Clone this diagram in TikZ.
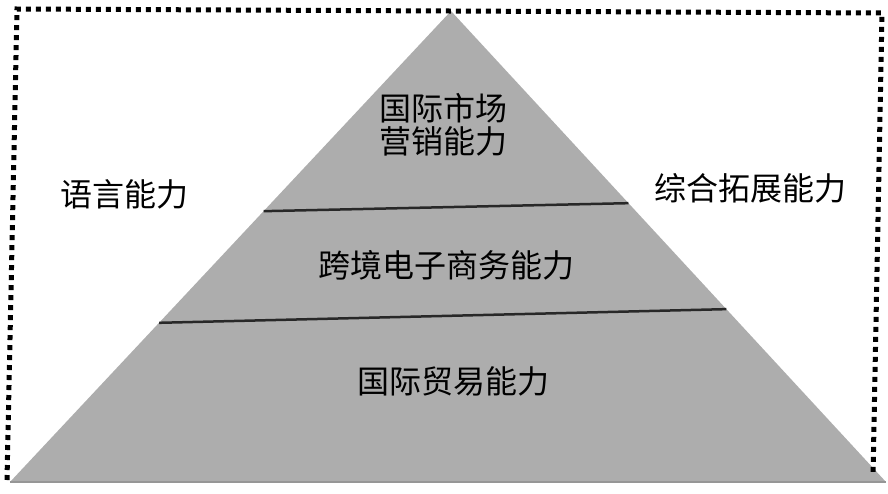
\documentclass[tikz,border=0pt]{standalone}
\usepackage{fontspec}
\newfontfamily\cjk{Noto Sans CJK SC}
\usepackage{tikz}
\usetikzlibrary{calc}
\definecolor{PyramidGray}{RGB}{173, 173, 173}
\definecolor{BaseGray}{RGB}{150, 150, 150}
\definecolor{SplitDark}{RGB}{40, 40, 40}

\begin{document}
\begin{tikzpicture}[x=1pt, y=-1pt,
    label/.style={font=\cjk\fontsize{32}{33}\selectfont, inner sep=0pt, align=center, text=black}]
    \useasboundingbox (0,0) rectangle (888,493);

    % Pyramid corners
    \coordinate (apex) at (451,11);
    \coordinate (baseL) at (10,482);
    \coordinate (baseR) at (886,482);

    % Pyramid body
    \fill[PyramidGray] (baseL) -- (apex) -- (baseR) -- cycle;
    \draw[BaseGray, line width=2pt] (baseL) -- (baseR);

    % Dotted frame
    \coordinate (frameBL) at (7,480);
    \coordinate (frameTL) at (17,9);
    \coordinate (frameTR) at (882,13);
    \coordinate (frameBR) at (873,476);
    \draw[line width=5pt, dash pattern=on 5pt off 5pt] (frameBL) -- (frameTL) -- (frameTR) -- (frameBR);

    % Split lines
    \coordinate (upL) at ($(baseL)!0.575!(apex)$);
    \coordinate (upR) at ($(baseR)!0.592!(apex)$);
    \coordinate (lowL) at ($(baseL)!0.338!(apex)$);
    \coordinate (lowR) at ($(baseR)!0.367!(apex)$);
    \draw[SplitDark, line width=2.5pt] (upL) -- (upR);
    \draw[SplitDark, line width=2.5pt] (lowL) -- (lowR);

    % Layer labels
    \node[label] (market) at (443,124.5) {国际市场\\营销能力};
    \node[label] (ecom) at (446,265) {跨境电子商务能力};
    \node[label] (trade) at (453,381) {国际贸易能力};

    % Side labels
    \node[label] (lang) at (124,194) {语言能力};
    \node[label] (ext) at (750,188) {综合拓展能力};
\end{tikzpicture}
\end{document}
